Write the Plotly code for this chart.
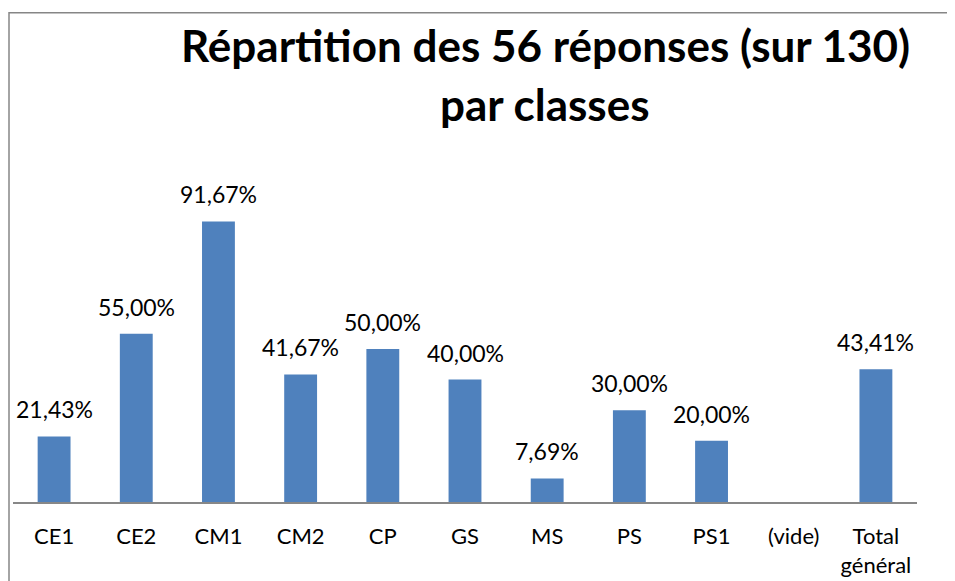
import plotly.graph_objects as go

categories = ["CE1", "CE2", "CM1", "CM2", "CP", "GS", "MS", "PS", "PS1", "(vide)", "Total général"]
tick_labels = ["CE1", "CE2", "CM1", "CM2", "CP", "GS", "MS", "PS", "PS1", "(vide)", "Total<br>général"]
values = [0.2143, 0.55, 0.9167, 0.4167, 0.50, 0.40, 0.0769, 0.30, 0.20, None, 0.4341]
value_labels = ["21,43%", "55,00%", "91,67%", "41,67%", "50,00%", "40,00%", "7,69%", "30,00%", "20,00%", "", "43,41%"]
title_lines = ["Répartition des 56 réponses (sur 130)", "par classes"]

FONT = "Lato"
BAR_COLOR = "#4F81BD"

# page offset of the figure inside the browser (default body margin)
OFF = 8
# plot area in screenshot pixels, converted to figure pixels
L, R, T, B = 13 - OFF, 917 - OFF, 195.5 - OFF, 502 - OFF
W, H = R - L, B - T

fig = go.Figure()
fig.add_trace(go.Bar(
    x=categories, y=values, marker=dict(color=BAR_COLOR, line=dict(width=0)),
    width=0.4, hoverinfo="skip",
))

for c, v, t in zip(categories, values, value_labels):
    if v is None:
        continue
    fig.add_annotation(x=c, y=v, text=t, showarrow=False, xref="x", yref="y",
                       yanchor="bottom", yshift=11,
                       font=dict(family=FONT, size=23, color="#000000"))

# title (two centered lines), positions in figure pixels
for line, ypx in zip(title_lines, [36.5, 95.5]):
    fig.add_annotation(x=(545 - OFF - L) / W, y=(B - ypx) / H, xref="paper", yref="paper",
                       text="<b>" + line + "</b>", showarrow=False,
                       xanchor="center", yanchor="middle",
                       font=dict(family=FONT, size=44, color="#000000"))

# chart border
fig.add_shape(type="rect", xref="paper", yref="paper",
              x0=(9 - OFF - L) / W, x1=(980 - L) / W, y0=(B - 620) / H, y1=(B - (12 - OFF)) / H,
              line=dict(color="#868686", width=1.5), fillcolor="rgba(0,0,0,0)", layer="below")

fig.update_layout(
    width=955, height=581,
    margin=dict(l=L, r=955 - R, t=T, b=581 - B, autoexpand=False),
    paper_bgcolor="white", plot_bgcolor="white",
    showlegend=False,
    bargap=0.6,
    font=dict(family=FONT, size=23, color="#000000"),
    xaxis=dict(categoryorder="array", categoryarray=categories,
               tickmode="array", tickvals=categories, ticktext=tick_labels,
               showline=True, linecolor="#878787", linewidth=2,
               showgrid=False, ticks="", ticklabelstandoff=14, automargin=False,
               tickfont=dict(family=FONT, size=22, color="#000000")),
    yaxis=dict(range=[0, 1], visible=False, showgrid=False, zeroline=False, automargin=False),
)

fig.write_html("out.html")
